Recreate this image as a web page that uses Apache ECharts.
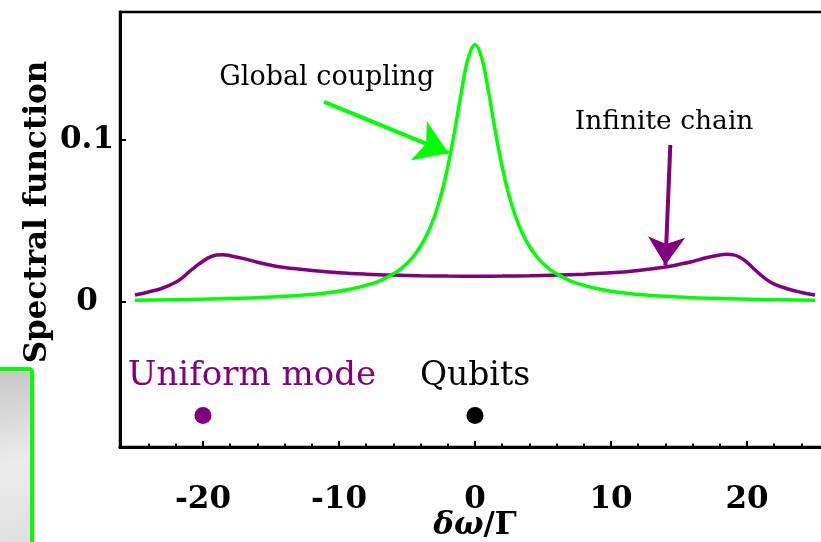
<!DOCTYPE html>
<html>
<head>
<meta charset="utf-8">
<script src="https://cdn.jsdelivr.net/npm/echarts@6/dist/echarts.min.js"></script>
<style>
html,body{margin:0;padding:0;background:#fff;}
#chart{width:821px;height:542px;}
</style>
</head>
<body>
<div id="chart"></div>
<script>
// ---- data ----
const globalX = [-25,-21,-18,-15,-12,-10,-9,-8,-7,-6,-5.5,-5,-4.5,-4,-3.5,-3,-2.5,-2,-1.5,-1,-0.5,0,0.5,1,1.5,2,2.5,3,3.5,4,4.5,5,5.5,6,7,8,9,10,12,15,18,21,25];
const globalY = [0.0011,0.0016,0.0021,0.0031,0.0047,0.0067,0.0082,0.0103,0.0131,0.0174,0.0202,0.0238,0.0284,0.0344,0.0421,0.0523,0.0658,0.0834,0.1053,0.1296,0.1505,0.159,0.1505,0.1296,0.1053,0.0834,0.0658,0.0523,0.0421,0.0344,0.0284,0.0238,0.0202,0.0174,0.0131,0.0103,0.0082,0.0067,0.0047,0.0031,0.0021,0.0016,0.0011];

const chainX = [-25,-24,-23,-22,-21.5,-21,-20.5,-20,-19.5,-19,-18.5,-18,-17,-16,-15,-14,-12,-10,-8,-6,-4,-2,0,2,4,6,8,10,12,14,15,16,17,18,18.5,19,19.5,20,20.5,21,21.5,22,23,24,25];
const chainY = [0.0043,0.0062,0.0085,0.0122,0.0150,0.0188,0.0222,0.0252,0.0277,0.0290,0.0292,0.0286,0.0268,0.0245,0.0227,0.0213,0.0195,0.0181,0.0172,0.0166,0.0162,0.0160,0.0159,0.0160,0.0162,0.0166,0.0172,0.0180,0.0195,0.0216,0.0232,0.0250,0.0273,0.0290,0.0294,0.0291,0.0275,0.0245,0.0205,0.0168,0.0135,0.0110,0.0080,0.0059,0.0043];

const uniformModePoint = [-20, -0.07];
const qubitsPoint = [0, -0.07];

const xMajorTicks = [-20,-10,0,10,20];
const xMinorTicks = [-24,-22,-18,-16,-14,-12,-8,-6,-4,-2,2,4,6,8,12,14,16,18,22,24];
const yTicks = [0, 0.1];

// annotation anchors (data coordinates)
const globalLabel = {text:'Global coupling', at:[-10.9, 0.138]};
const chainLabel = {text:'Infinite chain', at:[13.9, 0.111]};
const uniformLabel = {text:'Uniform mode', at:[-16.4, -0.046]};
const qubitsLabel = {text:'Qubits', at:[0, -0.046]};
const globalArrow = [[-11.1, 0.1235], [-1.96, 0.092]];
const chainArrow = [[14.36, 0.0969], [14.0, 0.0228]];

const GREEN = '#00ff00';
const PURPLE = '#800080';
const SERIF = '"DejaVu Serif", "Liberation Serif", serif';

const zip = (xs, ys) => xs.map((x, i) => [x, ys[i]]);

const chart = echarts.init(document.getElementById('chart'), null, {renderer:'canvas'});

function textSeries(lbl, color, size, weight) {
  return {
    type:'scatter', symbolSize:0, silent:true, z:5,
    itemStyle:{opacity:1},
    data:[[lbl.at[0], lbl.at[1], lbl.text]],
    label:{show:true, position:'inside', formatter:p=>p.data[2],
      color:color, fontFamily:SERIF, fontSize:size, fontWeight:weight}
  };
}

function arrowLine(pts, color, size) {
  return {
    silent:true, symbol:['none','arrow'], symbolSize:size, animation:false,
    label:{show:false},
    itemStyle:{color:color},
    lineStyle:{color:color, width:4, type:'solid', opacity:1},
    data:[[{coord:pts[0]},{coord:pts[1]}]]
  };
}

const option = {
  animation:false,
  backgroundColor:'#fff',
  grid:{left:120, top:12, right:-9, bottom:95, outerBoundsMode:'none', containLabel:false,
    show:true, borderColor:'#000', borderWidth:2.5},
  xAxis:[{
    type:'value', min:-26.1, max:26.1,
    axisLine:{show:true, onZero:false, lineStyle:{color:'#000', width:3}},
    axisTick:{show:true, inside:true, length:6, customValues:xMajorTicks, lineStyle:{color:'#000', width:2}},
    axisLabel:{customValues:xMajorTicks, formatter:v=>String(v), margin:37,
      color:'#000', fontFamily:SERIF, fontWeight:'bold', fontSize:31},
    splitLine:{show:false},
    name:'{i|δω}{n|/Γ}', nameLocation:'middle', nameGap:79, nameMoveOverlap:false,
    nameTextStyle:{verticalAlign:'middle', rich:{
      i:{fontFamily:SERIF, fontStyle:'italic', fontWeight:'bold', fontSize:31, color:'#000'},
      n:{fontFamily:SERIF, fontWeight:'bold', fontSize:31, color:'#000'}
    }}
  },{
    type:'value', min:-26.1, max:26.1, position:'bottom', offset:0,
    axisLine:{show:false, onZero:false},
    axisTick:{show:true, inside:true, length:3.5, customValues:xMinorTicks, lineStyle:{color:'#000', width:2}},
    axisLabel:{show:false}, splitLine:{show:false}
  }],
  yAxis:{
    type:'value', min:-0.0895, max:0.179,
    axisLine:{show:true, onZero:false, lineStyle:{color:'#000', width:3}},
    axisTick:{show:true, inside:true, length:6, customValues:yTicks, lineStyle:{color:'#000', width:2}},
    axisLabel:{customValues:yTicks, formatter:v=>String(v), align:'center', margin:33,
      color:'#000', fontFamily:SERIF, fontWeight:'bold', fontSize:31},
    splitLine:{show:false}
  },
  graphic:[
    {type:'rect', z:-1, shape:{x:-6, y:369, width:38, height:190, r:[0,3,0,0]},
      style:{fill:new echarts.graphic.LinearGradient(0,0,1,1,[{offset:0,color:'#c4c4c4'},{offset:0.5,color:'#ececec'},{offset:1,color:'#dcdcdc'}]),
        stroke:GREEN, lineWidth:4}},
    {type:'text', x:38, y:212, rotation:Math.PI/2,
      style:{text:'Spectral function', fontFamily:SERIF, fontWeight:'bold', fontSize:31,
        fill:'#000', align:'center', verticalAlign:'middle'}}
  ],
  series:[
    {type:'line', name:'Infinite chain', data:zip(chainX, chainY), smooth:0.4, showSymbol:false,
      lineStyle:{color:PURPLE, width:3.5}, itemStyle:{color:PURPLE}, z:3, markLine:arrowLine(chainArrow, PURPLE, 28)},
    {type:'line', name:'Global coupling', data:zip(globalX, globalY), smooth:0.4, showSymbol:false,
      lineStyle:{color:GREEN, width:3.5}, itemStyle:{color:GREEN}, z:4, markLine:arrowLine(globalArrow, GREEN, 32)},
    {type:'scatter', name:'Uniform mode', data:[uniformModePoint], symbolSize:17, itemStyle:{color:PURPLE, opacity:1}},
    {type:'scatter', name:'Qubits', data:[qubitsPoint], symbolSize:17, itemStyle:{color:'#000', opacity:1}},
    textSeries(globalLabel, '#000', 27, 'normal'),
    textSeries(chainLabel, '#000', 26.5, 'normal'),
    textSeries(uniformLabel, PURPLE, 34, 'normal'),
    textSeries(qubitsLabel, '#000', 33, 'normal')
  ]
};
chart.setOption(option);
</script>
</body>
</html>
